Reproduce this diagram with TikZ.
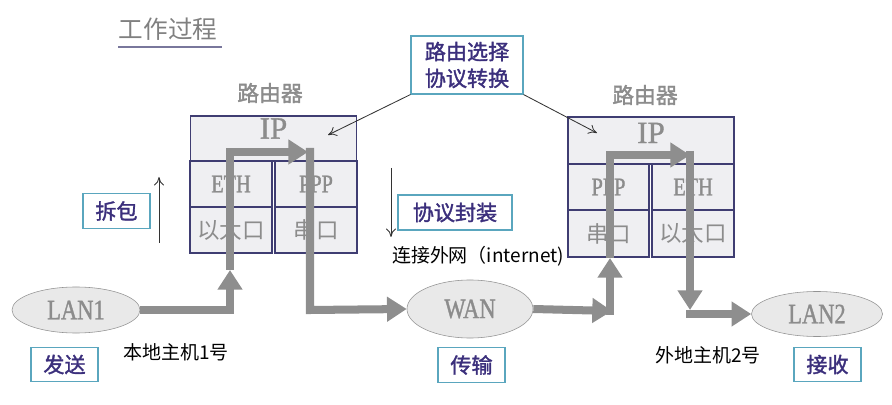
\documentclass[tikz,border=0pt]{standalone}
\usepackage{fontspec}
\setmainfont{Liberation Serif}
\newfontfamily\narrow[FakeStretch=0.8,FakeBold=1.2]{Liberation Serif}
\newfontfamily\wide[FakeBold=1.2]{Liberation Serif}
\newfontfamily\cjk{Noto Sans CJK SC}
\newfontfamily\cjkb[FakeBold=1.6]{Noto Sans CJK SC}
\usetikzlibrary{arrows.meta,shapes.geometric}
\definecolor{cellfill}{HTML}{EFEFF2}
\definecolor{celldraw}{HTML}{3F3D72}
\definecolor{greytext}{HTML}{8C8C8C}
\definecolor{flow}{HTML}{8E8E8E}
\definecolor{tagdraw}{HTML}{5AA6BE}
\definecolor{tagtext}{HTML}{3B2F7C}

\begin{document}
\begin{tikzpicture}[x=0.025cm, y=-0.025cm,
    cell/.style={draw=celldraw, fill=cellfill, line width=0.8pt, inner sep=0pt,
                 text=greytext, minimum width=2.05cm, minimum height=1.15cm},
    ipcell/.style={cell, minimum width=4.15cm, font=\wide\fontsize{22}{24}\selectfont},
    latcell/.style={cell, font=\narrow\fontsize{18}{20}\selectfont},
    cncell/.style={cell, font=\cjk\fontsize{16}{18}\selectfont},
    tag/.style={draw=tagdraw, line width=0.8pt, text=tagtext, inner sep=0pt,
                minimum width=1.675cm, minimum height=0.86cm, align=center,
                font=\cjkb\fontsize{15}{19}\selectfont},
    lan/.style={ellipse, draw=gray!85, fill=gray!17, text=greytext, inner sep=0pt,
                font=\narrow\fontsize{20}{22}\selectfont},
    flowline/.style={draw=flow, line width=5.7pt, -{Triangle[length=14pt,width=17pt]}},
    thin/.style={black!80, line width=0.6pt, -{To[length=6pt,width=7pt]}},
    plain/.style={font=\cjk\fontsize{13.5}{16}\selectfont}]
  \useasboundingbox (0,0) rectangle (892,405);

  % --- title ---
  \node[font=\cjk\fontsize{17.5}{20}\selectfont, text=gray] (title) at (168,29) {工作过程};
  \draw[celldraw!70, line width=0.8pt] (118,47) -- (222,47);

  % --- router 1 ---
  \node[font=\cjkb\fontsize{15.5}{18}\selectfont, text=greytext] (r1name) at (270,93) {路由器};
  \node[ipcell, minimum height=1.125cm, text depth=0.5cm] (r1ip) at (273.5,138.5) {IP};
  \node[latcell] (r1eth) at (231,184) {ETH};
  \node[cncell] (r1eport) at (231,230) {以太口};
  \node[latcell] (r1ppp) at (316,184) {PPP};
  \node[cncell] (r1sport) at (316,230) {串口};

  % --- router 2 ---
  \node[font=\cjkb\fontsize{15.5}{18}\selectfont, text=greytext] (r2name) at (645,95) {路由器};
  \node[ipcell, minimum width=4.15cm, minimum height=1.175cm, text depth=0.38cm] (r2ip) at (651,140.5) {IP};
  \node[latcell, minimum width=2.025cm] (r2ppp) at (608.5,187) {PPP};
  \node[cncell, minimum width=2.025cm, minimum height=1.175cm] (r2sport) at (608.5,233.5) {串口};
  \node[latcell] (r2eth) at (693,187) {ETH};
  \node[cncell, minimum height=1.175cm] (r2eport) at (693,233.5) {以太口};

  % --- networks ---
  \node[lan, minimum width=3.2cm, minimum height=1.15cm] (lan1) at (76,310) {LAN1};
  \node[lan, minimum width=3.15cm, minimum height=1.45cm] (wan) at (470,309) {WAN};
  \node[lan, minimum width=3.275cm, minimum height=1.125cm] (lan2) at (817,314) {LAN2};

  % --- labels ---
  \node[tag, minimum width=2.8cm, minimum height=1.45cm] (rsel) at (467,65) {路由选择\\协议转换};
  \node[tag] (unpack) at (116.5,211) {拆包};
  \node[tag, minimum width=2.85cm, minimum height=0.875cm] (encap) at (455,212.5) {协议封装};
  \node[tag] (send) at (64.5,364.5) {发送};
  \node[tag] (carry) at (471.5,365) {传输};
  \node[tag] (recv) at (827.5,364.5) {接收};
  \node[plain] (inet) at (478,256) {连接外网（internet)};
  \node[plain] (host1) at (176,352) {本地主机1号};
  \node[plain] (host2) at (708,355) {外地主机2号};

  % thin arrows
  \coordinate (up1) at (159,243);   \coordinate (up2) at (159,177);
  \coordinate (dn1) at (391,168);   \coordinate (dn2) at (391,237);
  \coordinate (tip1) at (328,135);  \coordinate (tip2) at (597,133);
  \draw[thin] (up1) -- (up2);
  \draw[thin] (dn1) -- (dn2);
  \draw[thin] (rsel.south west) -- (tip1);
  \draw[thin] (rsel.south east) -- (tip2);

  % --- packet path ---
  \coordinate (p1) at (230,310);  \coordinate (p2) at (230,270);
  \coordinate (p3) at (230,152);  \coordinate (p4) at (308,152);
  \coordinate (p5) at (310,148);  \coordinate (p6) at (310,310);
  \coordinate (q1) at (612,311);  \coordinate (q2) at (610,315);
  \coordinate (q3) at (610,258);  \coordinate (q4) at (610,155);
  \coordinate (q5) at (690,155);  \coordinate (q6) at (690,151);
  \coordinate (q7) at (690,310);  \coordinate (q8) at (686,314);
  \draw[flowline] (lan1.east) -- (p1) -- (p2);
  \draw[flowline] (p2) -- (p3) -- (p4);
  \draw[flowline] (p5) -- (p6) -- (wan.west);
  \draw[flowline] (wan.east) -- (q1);
  \draw[flowline] (q2) -- (q3);
  \draw[flowline] (q3) -- (q4) -- (q5);
  \draw[flowline] (q6) -- (q7);
  \draw[flowline] (q8) -- (lan2.west);
\end{tikzpicture}
\end{document}
